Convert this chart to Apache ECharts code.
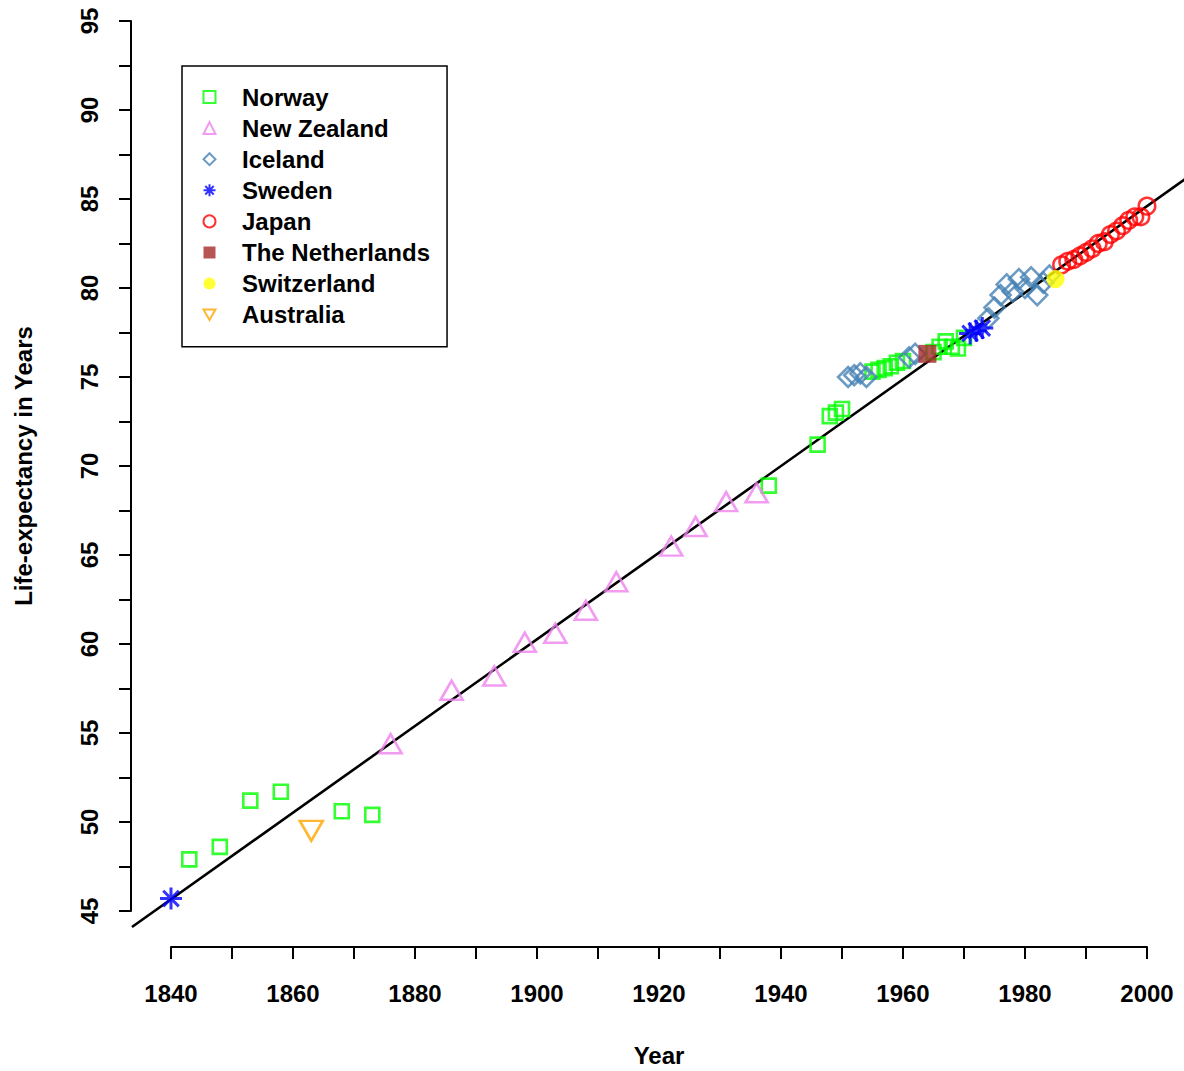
<!DOCTYPE html>
<html>
<head>
<meta charset="utf-8">
<script src="https://cdn.jsdelivr.net/npm/echarts@6/dist/echarts.min.js"></script>
<style>
html,body{margin:0;padding:0;background:#ffffff;}
#chart{width:1184px;height:1071px;}
</style>
</head>
<body>
<div id="chart"></div>
<script>
// ---------------- data ----------------
const norwayYears = [1843, 1848, 1853, 1858, 1868, 1873, 1938, 1946, 1948, 1949, 1950, 1955, 1956, 1957, 1958, 1959, 1960, 1965, 1966, 1967, 1968, 1969, 1970];
const norwayLE    = [47.9, 48.6, 51.2, 51.7, 50.6, 50.4, 68.9, 71.2, 72.8, 73.0, 73.2, 75.3, 75.4, 75.5, 75.6, 75.8, 75.9, 76.4, 76.7, 77.0, 76.7, 76.6, 77.2];

const nzYears = [1876, 1886, 1893, 1898, 1903, 1908, 1913, 1922, 1926, 1931, 1936];
const nzLE    = [54.4, 57.4, 58.2, 60.1, 60.6, 61.9, 63.5, 65.5, 66.6, 68.0, 68.5];

const icelandYears = [1951, 1952, 1953, 1954, 1961, 1962, 1974, 1975, 1976, 1977, 1978, 1979, 1980, 1981, 1982, 1983, 1984];
const icelandLE    = [75.0, 75.1, 75.2, 75.0, 76.1, 76.3, 78.3, 78.9, 79.6, 80.2, 79.8, 80.5, 80.0, 80.6, 79.6, 80.3, 80.7];

const swedenYears = [1840, 1971, 1972, 1973];
const swedenLE    = [45.7, 77.45, 77.6, 77.75];

const japanYears = [1986, 1987, 1988, 1989, 1990, 1991, 1992, 1993, 1994, 1995, 1996, 1997, 1998, 1999, 2000];
const japanLE    = [81.3, 81.5, 81.6, 81.8, 82.0, 82.2, 82.5, 82.6, 83.0, 83.2, 83.5, 83.8, 84.0, 84.0, 84.6];

const netherlandsYears = [1964];
const netherlandsLE    = [76.3];

const switzerlandYears = [1985];
const switzerlandLE    = [80.5];

const australiaYears = [1863];
const australiaLE    = [49.5];

// regression (best-practice) line, end points read at the plot edges
const trendYears = [1833.6, 2006.4];
const trendLE    = [44.1, 86.16];

const countryNames = ['Norway', 'New Zealand', 'Iceland', 'Sweden', 'Japan', 'The Netherlands', 'Switzerland', 'Australia'];

const xTickMin = 1840, xTickMax = 2000, xTickStep = 10, xLabelStep = 20;
const yTickMin = 45, yTickMax = 95, yTickStep = 2.5, yLabelStep = 5;
const yTrendMin = 40; // lower bound of the hidden scale used for the trend line

const xTitle = 'Year';
const yTitle = 'Life-expectancy in Years';

// ---------------- chart ----------------
const FONT = '"Liberation Sans", Arial, Helvetica, sans-serif';
const pairs = (xs, ys) => xs.map((x, i) => [x, ys[i]]);

const ASTERISK = 'path://M10,0L10,20M0,10L20,10M2.93,2.93L17.07,17.07M2.93,17.07L17.07,2.93';
const DOWN_TRI = 'path://M0,0L20,0L10,17.32Z';

function hollow(color, w) {
  return { color: 'rgba(0,0,0,0)', borderColor: color, borderWidth: w || 2.5 };
}

const chart = echarts.init(document.getElementById('chart'), null, { renderer: 'svg', width: 1184, height: 1071 });

const axisText = { fontFamily: FONT, fontWeight: 'bold', fontSize: 24, color: '#000' };

// pixel layout of the main plotting grid
const G = { left: 171, right: 37, top: 21, bottom: 160 };
const plotW = 1184 - G.left - G.right;
const plotH = 1071 - G.top - G.bottom;
const pxPerYear = plotW / (xTickMax - xTickMin);
const pxPerUnit = plotH / (yTickMax - yTickMin);
// second (hidden) grid with the same scale, wide enough for the trend line
const G2 = {
  left: G.left - (xTickMin - trendYears[0]) * pxPerYear,
  right: G.right - (trendYears[1] - xTickMax) * pxPerYear,
  top: G.top,
  bottom: G.bottom - (yTickMin - yTrendMin) * pxPerUnit
};

const hiddenAxis = { show: false, axisLine: { show: false }, axisTick: { show: false }, axisLabel: { show: false }, splitLine: { show: false } };

const legendStroke = 2;
const legendData = countryNames.map(n => ({ name: n, itemStyle: { borderWidth: legendStroke } }));

const option = {
  backgroundColor: '#ffffff',
  animation: false,
  grid: [
    Object.assign({ containLabel: false, outerBoundsMode: 'none' }, G),
    Object.assign({ containLabel: false, outerBoundsMode: 'none' }, G2)
  ],
  xAxis: [{
    type: 'value', gridIndex: 0,
    min: xTickMin, max: xTickMax, interval: xTickStep,
    offset: 36,
    axisLine: { show: true, onZero: false, lineStyle: { color: '#000', width: 2 } },
    axisTick: { show: true, length: 12, lineStyle: { color: '#000', width: 2 } },
    splitLine: { show: false },
    axisLabel: Object.assign({
      margin: 34,
      hideOverlap: false,
      formatter: v => (Math.round(v) % xLabelStep === 0 ? String(v) : '')
    }, axisText),
    name: xTitle,
    nameLocation: 'middle',
    nameGap: 96,
    nameTextStyle: axisText
  }, Object.assign({ type: 'value', gridIndex: 1, min: trendYears[0], max: trendYears[1] }, hiddenAxis)],
  yAxis: [{
    type: 'value', gridIndex: 0,
    min: yTickMin, max: yTickMax, interval: yTickStep,
    offset: 40,
    axisLine: { show: true, onZero: false, lineStyle: { color: '#000', width: 2 } },
    axisTick: { show: true, length: 12, lineStyle: { color: '#000', width: 2 } },
    splitLine: { show: false },
    axisLabel: Object.assign({
      margin: 30,
      rotate: 90,
      hideOverlap: false,
      formatter: v => (Math.abs(v % yLabelStep) < 1e-9 ? String(v) : '')
    }, axisText),
    name: yTitle,
    nameLocation: 'middle',
    nameGap: 96,
    nameRotate: 90,
    nameTextStyle: axisText
  }, Object.assign({ type: 'value', gridIndex: 1, min: yTrendMin, max: yTickMax }, hiddenAxis)],
  legend: {
    orient: 'vertical',
    left: 182, top: 66,
    padding: [19, 17, 20, 20.5],
    itemWidth: 12, itemHeight: 12,
    itemGap: 7.1,
    borderColor: '#000', borderWidth: 1.5,
    backgroundColor: '#fff',
    selectedMode: false,
    data: legendData,
    itemStyle: { borderWidth: legendStroke },
    textStyle: { fontFamily: FONT, fontWeight: 'bold', fontSize: 24, color: '#000', lineHeight: 24, padding: [0, 0, 0, 21.5] }
  },
  series: [
    {
      name: 'trend', type: 'line', xAxisIndex: 1, yAxisIndex: 1, data: pairs(trendYears, trendLE),
      symbol: 'none', clip: false, silent: true, z: 1,
      lineStyle: { color: '#000', width: 2.6 }
    },
    {
      name: countryNames[0], type: 'scatter', data: pairs(norwayYears, norwayLE), clip: false,
      symbol: 'rect', symbolSize: 14, itemStyle: hollow('#00ff00', 2.6), z: 2
    },
    {
      name: countryNames[1], type: 'scatter', data: pairs(nzYears, nzLE), clip: false,
      symbol: 'triangle', symbolSize: [22, 19], itemStyle: hollow('#ee82ee', 2.6), z: 2
    },
    {
      name: countryNames[2], type: 'scatter', data: pairs(icelandYears, icelandLE), clip: false,
      symbol: 'diamond', symbolSize: 20, itemStyle: hollow('#4682b4', 2.6), z: 2
    },
    {
      name: countryNames[3], type: 'scatter', data: pairs(swedenYears, swedenLE), clip: false,
      symbol: ASTERISK, symbolSize: 22, itemStyle: hollow('#0000ff', 3), z: 3
    },
    {
      name: countryNames[4], type: 'scatter', data: pairs(japanYears, japanLE), clip: false,
      symbol: 'circle', symbolSize: 16.5, itemStyle: hollow('#ff0000', 2.6), z: 2
    },
    {
      name: countryNames[5], type: 'scatter', data: pairs(netherlandsYears, netherlandsLE), clip: false,
      symbol: 'rect', symbolSize: 18, itemStyle: { color: '#a52a2a' }, z: 3
    },
    {
      name: countryNames[6], type: 'scatter', data: pairs(switzerlandYears, switzerlandLE), clip: false,
      symbol: 'circle', symbolSize: 18, itemStyle: { color: '#ffff00' }, z: 3
    },
    {
      name: countryNames[7], type: 'scatter', data: pairs(australiaYears, australiaLE), clip: false,
      symbol: DOWN_TRI, symbolSize: [23, 20], itemStyle: hollow('#ffa500', 2.6), z: 2
    }
  ]
};

chart.setOption(option);
</script>
</body>
</html>
